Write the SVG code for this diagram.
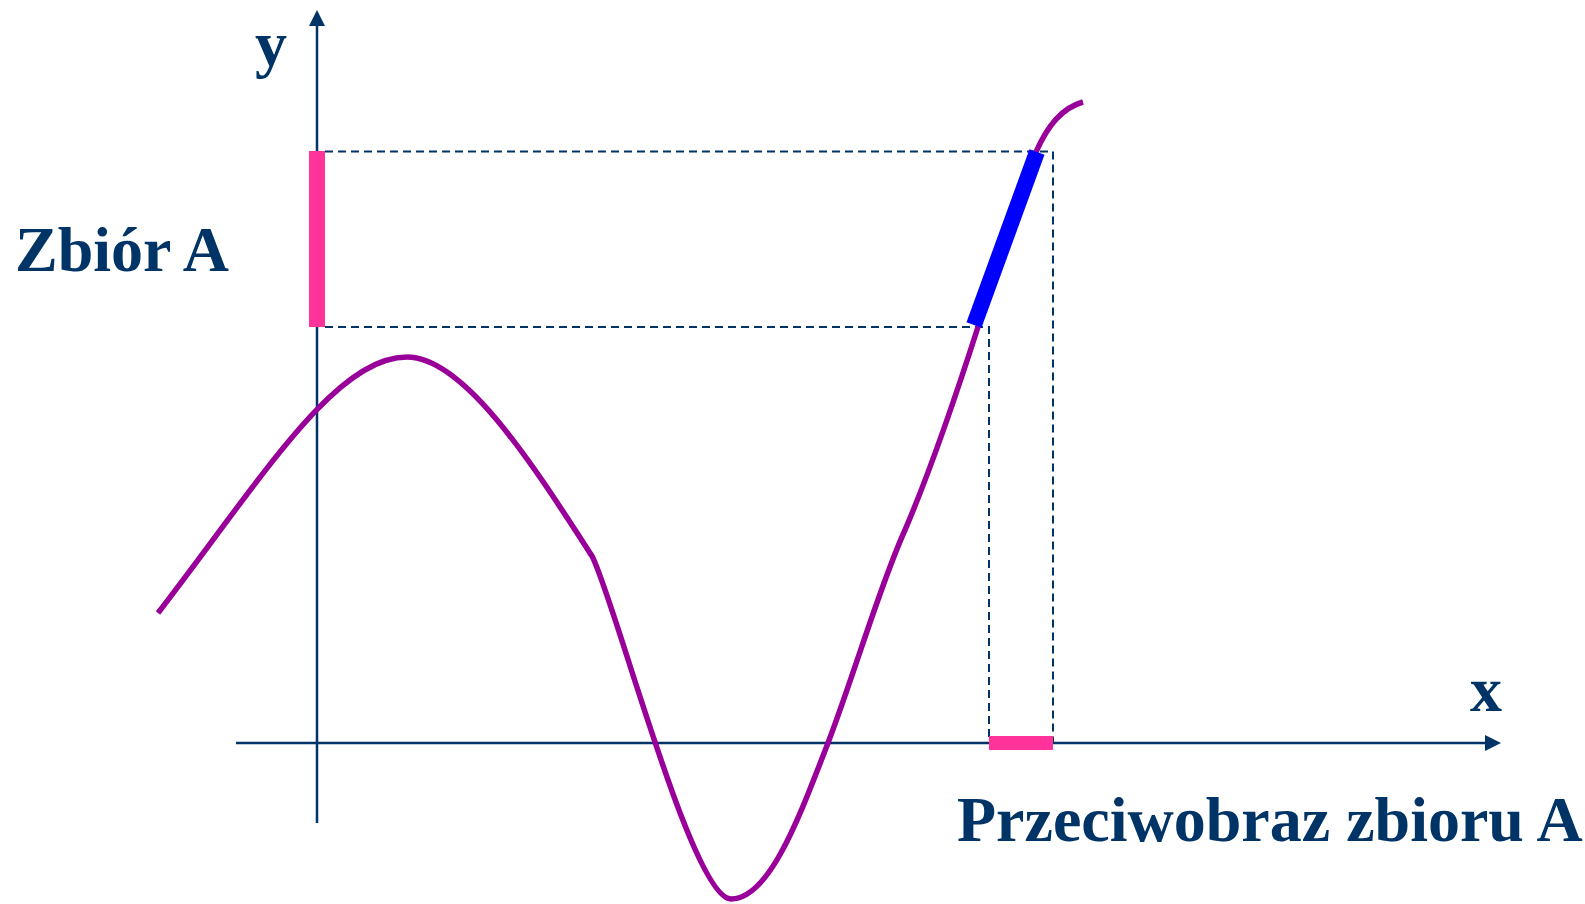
<svg xmlns="http://www.w3.org/2000/svg" width="1585" height="904" viewBox="0 0 1585 904">
<style>
.axis{stroke:#003366;stroke-width:2.5;fill:none}
.head{fill:#003366}
.dash{stroke:#003366;stroke-width:2;fill:none;stroke-dasharray:8 5}
.lbl{font-family:"Liberation Serif","Times New Roman",serif;font-weight:bold;font-size:64px;fill:#003366}
.curve{stroke:#990099;stroke-width:5.5;fill:none}
.pink{fill:#FF3399}
</style>
<rect width="1585" height="904" fill="#ffffff"/>
<g id="axes">
<line class="axis" x1="317" y1="24" x2="317" y2="823"/>
<polygon class="head" points="317,10 309,26 325,26"/>
<line class="axis" x1="236" y1="743" x2="1487" y2="743"/>
<polygon class="head" points="1501,743 1485,735 1485,751"/>
</g>
<g id="connectors">
<polyline class="dash" points="325,151.5 1053,151.5 1053,743"/>
<polyline class="dash" points="325,327 989,327 989,743"/>
</g>
<g id="curve">
<path class="curve" d="M158,613 C 262,478 335,357 407,357 C 465,357 535,468 592,556 C 615,600 692,899 731,899 C 770,899 800,815 828,743 C 855,672 880,585 905,530 C 935,460 960,383 978,327 L 1036,152 C 1048,125 1062,108 1083,102"/>
</g>
<g id="image-segment">
<line x1="1037" y1="152" x2="974" y2="325" stroke="#0000FF" stroke-width="16"/>
</g>
<g id="set-A">
<rect class="pink" x="309" y="151" width="16" height="176"/>
</g>
<g id="preimage">
<rect class="pink" x="989" y="736" width="64" height="14"/>
</g>
<g id="labels">
<text class="lbl" x="255" y="65">y</text>
<text class="lbl" x="1470" y="711">x</text>
<text class="lbl" x="15" y="271">Zbiór A</text>
<text class="lbl" x="957" y="841">Przeciwobraz zbioru A</text>
</g>
</svg>
